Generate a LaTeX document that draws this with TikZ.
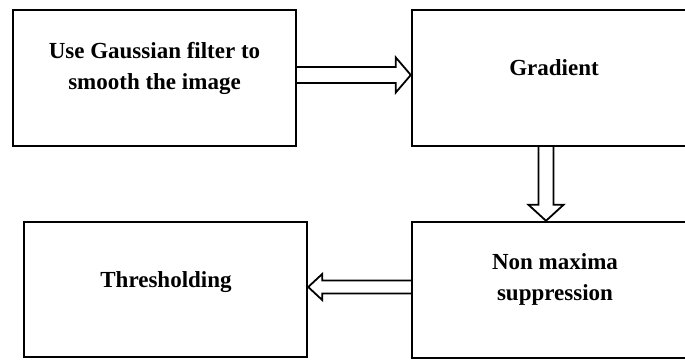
\documentclass[tikz,border=0pt]{standalone}
\usepackage{fontspec}
\setmainfont{Liberation Serif}
\usetikzlibrary{calc}
\begin{document}
\begin{tikzpicture}[x=1pt,y=-1pt,
  stagebox/.style={draw, line width=2.4pt, rectangle, minimum width=283pt,
    minimum height=136pt, inner sep=0pt},
  stagetext/.style={font=\bfseries\fontsize{23}{31}\selectfont, align=center,
    inner sep=0pt},
  flow/.style={draw, line width=1.8pt, line join=miter}]
\useasboundingbox (0,0) rectangle (685,360);
\clip (0,0) rectangle (685,360);

% stage boxes
\node[stagebox] (gauss) at (154.5,78) {};
\node[stagebox] (grad) at (553.5,78) {};
\node[stagebox] (nms) at (553.5,290) {};
\node[stagebox, minimum height=135pt] (thr) at (165.5,289.5) {};

% stage labels
\node[stagetext] (gausstxt) at (154.5,68) {Use Gaussian filter to\\smooth the image};
\node[stagetext, anchor=base] (gradtxt) at (554,75) {Gradient};
\node[stagetext] (nmstxt) at (555,279.7) {Non maxima\\suppression};
\node[stagetext, anchor=base] (thrtxt) at (166,287) {Thresholding};

% hollow block arrows between stages
\coordinate (r0) at (gauss.east |- 0,75);
\coordinate (r1) at (grad.west |- 0,75);
\draw[flow] ($(r0)+(0,-8)$) -- ($(r1)+(-15,-8)$) -- ($(r1)+(-15,-17.5)$) -- (r1)
  -- ($(r1)+(-15,17.5)$) -- ($(r1)+(-15,8)$) -- ($(r0)+(0,8)$);

\coordinate (d0) at (grad.south -| 546,0);
\coordinate (d1) at (nms.north -| 546,0);
\draw[flow] ($(d0)+(-7.5,0)$) -- ($(d1)+(-7.5,-16)$) -- ($(d1)+(-17.5,-16)$) -- (d1)
  -- ($(d1)+(17.5,-16)$) -- ($(d1)+(7.5,-16)$) -- ($(d0)+(7.5,0)$);

\coordinate (l0) at (nms.west |- 0,287);
\coordinate (l1) at (thr.east |- 0,287);
\draw[flow] ($(l0)+(0,-6.5)$) -- ($(l1)+(14,-6.5)$) -- ($(l1)+(14,-13)$) -- (l1)
  -- ($(l1)+(14,13)$) -- ($(l1)+(14,6.5)$) -- ($(l0)+(0,6.5)$);
\end{tikzpicture}
\end{document}
